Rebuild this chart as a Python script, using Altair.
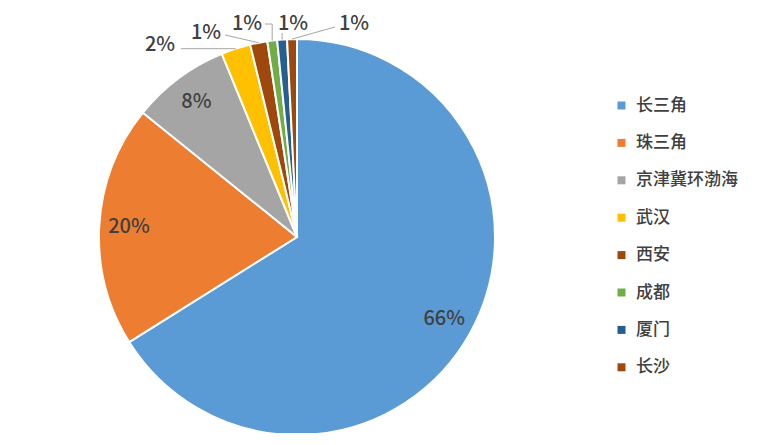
import math
import altair as alt
import pandas as pd

# ---- data ----
categories = ["长三角", "珠三角", "京津冀环渤海", "武汉", "西安", "成都", "厦门", "长沙"]
values = [66.1, 19.7, 8.0, 2.4, 1.4, 0.8, 0.8, 0.8]
colors = ["#5B9BD5", "#ED7D31", "#A5A5A5", "#FFC000", "#9E480E", "#70AD47", "#255E91", "#9E480E"]

# ---- layout (pixels, relative to the pie centre; y grows downward) ----
W, H = 752, 425
CX, CY = 289, 229          # pie centre inside the view
R = 198                    # pie radius
INSIDE_R = 0.85            # inside-label radius as a fraction of R
inside = {"长三角", "珠三角", "京津冀环渤海"}
# outside label centre, and leader attach point near that label
outside_layout = {
    "武汉": ((-137, -192), (-116, -189), "h"),
    "西安": ((-91, -204), (-72, -202), "d"),
    "成都": ((-50, -213), (-32, -213), "k"),
    "厦门": ((-4, -213), (None, -204), "v"),
    "长沙": ((57, -213), (38, -210), "d"),
}
FONT = "Noto Sans CJK SC"
TXT = "#404040"

total = sum(values)
df = pd.DataFrame({"cat": categories, "value": values, "idx": range(len(values))})

# label table computed from the values
rows, lines = [], []
cum = 0.0
for c, v in zip(categories, values):
    mid = (cum + v / 2) / total * 2 * math.pi
    cum += v
    lab = f"{round(v / total * 100)}%"
    ex, ey = R * math.sin(mid), -R * math.cos(mid)
    if c in inside:
        rows.append({"cat": c, "x": INSIDE_R * ex, "y": INSIDE_R * ey, "label": lab})
    else:
        (tx, ty), (ax, ay), kind = outside_layout[c]
        rows.append({"cat": c, "x": tx, "y": ty, "label": lab})
        if kind == "h":
            pts = [(ax, ey), (ex, ey)]
        elif kind == "v":
            pts = [(ex, ay), (ex, ey)]
        elif kind == "k":
            pts = [(ax, ay), (ex, ay), (ex, ey)]
        else:
            pts = [(ax, ay), (ex, ey)]
        for i, (px, py) in enumerate(pts):
            lines.append({"cat": c, "seq": i, "x": px, "y": py})

labels_df = pd.DataFrame(rows)
lines_df = pd.DataFrame(lines)

xs = alt.Scale(domain=[-CX, W - CX])
ys = alt.Scale(domain=[-CY, H - CY], reverse=True)

pie = alt.Chart(df).mark_arc(outerRadius=R, stroke="white", strokeWidth=2).encode(
    theta=alt.Theta("value:Q", stack=True),
    order=alt.Order("idx:Q"),
    color=alt.Color(
        "cat:N",
        scale=alt.Scale(domain=categories, range=colors),
        legend=alt.Legend(
            title=None, orient="none", legendX=605, legendY=89,
            symbolType="square", symbolSize=64, symbolStrokeWidth=0,
            labelFontSize=17, labelFont=FONT, labelColor=TXT, labelFontWeight=500,
            rowPadding=19.4, labelOffset=6,
        ),
    ),
    x=alt.X(datum=0, type="quantitative", scale=xs, axis=None),
    y=alt.Y(datum=0, type="quantitative", scale=ys, axis=None),
)

leaders = alt.Chart(lines_df).mark_line(color="#A6A6A6", strokeWidth=1).encode(
    x=alt.X("x:Q", scale=xs, axis=None),
    y=alt.Y("y:Q", scale=ys, axis=None),
    detail="cat:N",
    order="seq:Q",
)

texts = alt.Chart(labels_df).mark_text(
    font=FONT, fontSize=20, fontWeight=500, color=TXT, align="center", baseline="middle"
).encode(
    x=alt.X("x:Q", scale=xs, axis=None),
    y=alt.Y("y:Q", scale=ys, axis=None),
    text="label:N",
)

chart = alt.layer(pie, leaders, texts).properties(
    width=W, height=H, padding=0, autosize=alt.AutoSizeParams(type="none"),
    background="white",
).configure_view(stroke=None)

chart.save("out.html", embed_options={"renderer": "svg", "actions": False})
